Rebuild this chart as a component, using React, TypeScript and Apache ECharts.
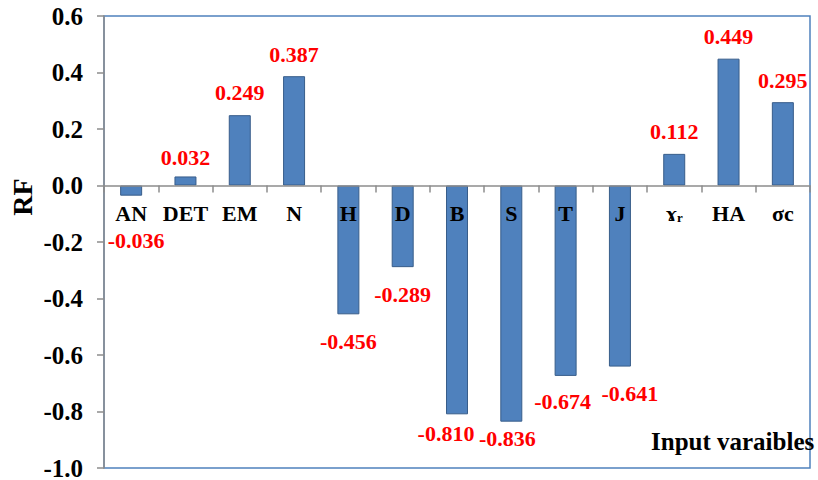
import React, { useEffect, useRef } from "react";
import * as echarts from "echarts";

const categories = ["AN", "DET", "EM", "N", "H", "D", "B", "S", "T", "J", "γr", "HA", "σc"];
const rfValues = [-0.036, 0.032, 0.249, 0.387, -0.456, -0.289, -0.81, -0.836, -0.674, -0.641, 0.112, 0.449, 0.295];
const yTicks = { min: -1.0, max: 0.6, step: 0.2 };
// per-bar label nudges [dx, dy] (to mimic hand-placed labels)
const labelNudges: [number, number][] = [
  [5, 18], [0, 3], [0, -1], [0, 0], [0, 0], [0, 0], [-11, -8], [-4, -10], [-3, -1], [10, 0], [0, 0], [0, 0], [0, 0],
];

const SERIF = '"Liberation Serif", "Times New Roman", serif';
const GRID = { left: 104, right: 8, top: 16, bottom: 12 };

export default function App() {
  const ref = useRef<HTMLDivElement>(null);
  useEffect(() => {
    document.body.style.margin = "0";
    const chart = echarts.init(ref.current!, undefined, { renderer: "svg" });
    const gridH = 480 - GRID.top - GRID.bottom;
    const zeroFromBottom = (gridH * (0 - yTicks.min)) / (yTicks.max - yTicks.min);
    const data = rfValues.map((v, i) => ({
      value: v,
      label: {
        position: v >= 0 ? "top" : "bottom",
        distance: v >= 0 ? 11 : 16,
        offset: labelNudges[i],
      },
    }));
    chart.setOption({
      animation: false,
      backgroundColor: "#ffffff",
      grid: {
        ...GRID,
        containLabel: false,
        outerBoundsMode: "none",
        show: true,
        borderColor: "#4F81BD",
        borderWidth: 1.5,
      },
      xAxis: {
        type: "category",
        data: categories,
        z: 5,
        offset: -zeroFromBottom,
        axisLine: { onZero: false, lineStyle: { color: "#8c8c8c", width: 1.5 } },
        axisTick: { show: true, length: 7, lineStyle: { color: "#8c8c8c", width: 1.5 } },
        axisLabel: {
          interval: 0,
          margin: 17,
          color: "#000",
          fontFamily: SERIF,
          fontWeight: "bold",
          fontSize: 22,
          formatter: (v: string) => (v === "γr" ? "{g|ɤ}{s|r}" : v),
          rich: {
            g: { fontFamily: SERIF, fontWeight: "bold", fontSize: 22, color: "#000" },
            s: { fontFamily: SERIF, fontWeight: "bold", fontSize: 13, color: "#000", padding: [8, 0, 0, 0] },
          },
        },
        splitLine: { show: false },
      },
      yAxis: {
        type: "value",
        min: yTicks.min,
        max: yTicks.max,
        interval: yTicks.step,
        axisLine: { show: true, lineStyle: { color: "#8c8c8c", width: 1.5 } },
        axisTick: { show: true, length: 7, lineStyle: { color: "#8c8c8c", width: 1.5 } },
        axisLabel: {
          margin: 21,
          color: "#000",
          fontFamily: SERIF,
          fontWeight: "bold",
          fontSize: 25,
          lineHeight: 22,
          formatter: (v: number) => v.toFixed(1),
        },
        splitLine: { show: false },
      },
      graphic: [
        {
          type: "text",
          x: 22,
          y: 197,
          rotation: Math.PI / 2,
          style: {
            text: "RF",
            fontFamily: SERIF,
            fontWeight: "bold",
            fontSize: 28,
            fill: "#000",
            align: "center",
            verticalAlign: "middle",
          },
        },
        {
          type: "text",
          x: 651,
          y: 441,
          style: {
            text: "Input varaibles",
            fontFamily: SERIF,
            fontWeight: "bold",
            fontSize: 25,
            fill: "#000",
            verticalAlign: "middle",
          },
        },
      ],
      series: [
        {
          type: "bar",
          data,
          barWidth: 22,
          itemStyle: { color: "#4F81BD", borderColor: "#385D8A", borderWidth: 1 },
          label: {
            show: true,
            color: "#ff0000",
            fontFamily: SERIF,
            fontWeight: "bold",
            fontSize: 22,
            formatter: (p: any) => Number(p.value).toFixed(3),
          },
        },
      ],
    });
    return () => chart.dispose();
  }, []);
  return <div ref={ref} style={{ width: 818, height: 480 }} />;
}
